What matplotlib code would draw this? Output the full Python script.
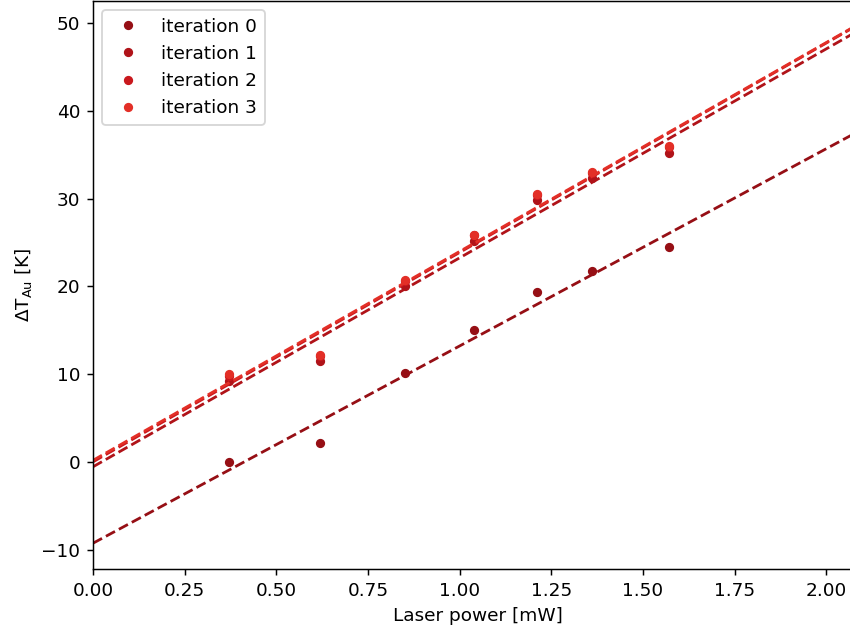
import numpy as np
import matplotlib.pyplot as plt

# Laser power settings [mW] and measured gold temperature rise [K]
power = [0.37, 0.62, 0.85, 1.04, 1.21, 1.36, 1.57]
dT_it0 = [0.0, 2.1, 10.1, 15.0, 19.4, 21.8, 24.5]
dT_it1 = [9.2, 11.5, 20.0, 25.2, 29.8, 32.3, 35.2]
dT_it2 = [9.8, 12.1, 20.6, 25.8, 30.4, 32.9, 35.9]
dT_it3 = [10.0, 12.2, 20.7, 25.9, 30.5, 33.0, 36.0]

labels = ["iteration 0", "iteration 1", "iteration 2", "iteration 3"]
colors = ["#960f15", "#b01319", "#c9181d", "#e32f27"]

fig = plt.figure(figsize=(850 / 133, 637 / 133), dpi=133)
ax = fig.add_axes([93 / 850, 68 / 637, (863 - 93) / 850, 568 / 637])

xs = np.linspace(0, 2.2, 50)
for y, lab, c in zip([dT_it0, dT_it1, dT_it2, dT_it3], labels, colors):
    ax.plot(power, y, "o", ms=4, color=c, label=lab)
    # linear fit
    m, b = np.polyfit(power, y, 1)
    ax.plot(xs, m * xs + b, "--", color=c, lw=1.5)

ax.set_xlim(0, 2.1)
ax.set_ylim(-12.2, 52.5)
ax.set_xlabel("Laser power [mW]")
ax.set_ylabel(r"$\Delta\mathrm{T}_{\mathrm{Au}}$ [K]")
ax.legend(loc="upper left")

fig.savefig("out.png", dpi=133)
